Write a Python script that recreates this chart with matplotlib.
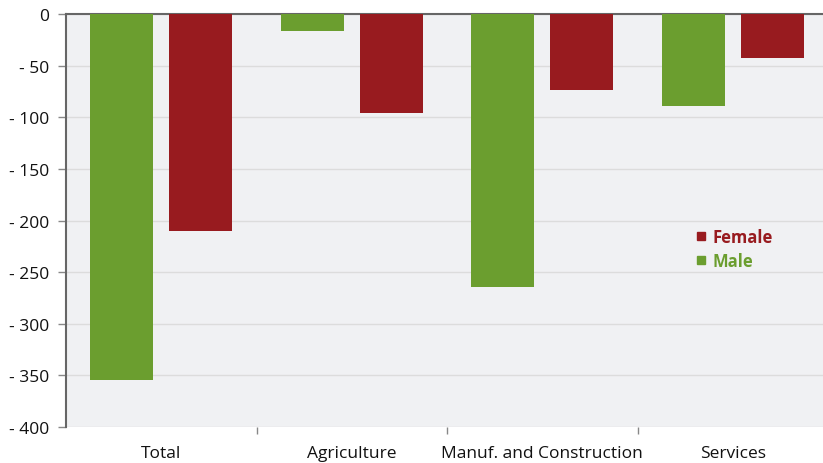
import matplotlib

matplotlib.use("Agg")
import matplotlib.pyplot as plt
import numpy as np
from matplotlib.lines import Line2D

categories = ["Total", "Agriculture", "Manuf. and Construction", "Services"]
male = [-354, -16, -264, -89]
female = [-210, -96, -74, -43]
yticks = [0, -50, -100, -150, -200, -250, -300, -350, -400]
ytick_labels = ["0"] + [f"- {abs(v)}" for v in yticks[1:]]

GREEN = "#6b9e2f"
RED = "#981b1f"
BG = "#f0f1f3"

plt.rcParams["font.family"] = ["Open Sans", "DejaVu Sans"]

fig = plt.figure(figsize=(8.23, 4.64), dpi=100)
ax = fig.add_axes([66 / 823, 1 - 428 / 464, 762 / 823, 413 / 464])
ax.set_facecolor(BG)

x = np.arange(len(categories))
w = 0.33
ax.bar(x - 0.207, male, width=w, color=GREEN, zorder=3)
ax.bar(x + 0.207, female, width=w, color=RED, zorder=3)

ax.set_xlim(-0.5, len(categories) - 0.5)
ax.set_ylim(-400, 0)
ax.set_yticks(yticks)
ax.set_yticklabels(ytick_labels, fontsize=12.5, color="#111111")
ax.yaxis.grid(True, color="#dcdcdc", lw=1, zorder=0)
ax.tick_params(axis="y", length=6, color="#888888", width=1, pad=6)

ax.set_xticks(x)
ax.set_xticklabels(categories, fontsize=12.5, color="#111111")
ax.tick_params(axis="x", length=0, pad=13)
ax.set_xticks(np.arange(len(categories) - 1) + 0.5, minor=True)
ax.tick_params(axis="x", which="minor", length=5, color="#888888", width=1)

for s in ["right", "bottom"]:
    ax.spines[s].set_visible(False)
ax.spines["left"].set_color("#666666")
ax.spines["left"].set_linewidth(1.5)
ax.spines["top"].set_color("#666666")
ax.spines["top"].set_linewidth(1.5)

handles = [
    Line2D([], [], marker="s", ls="", color=RED, markersize=6),
    Line2D([], [], marker="s", ls="", color=GREEN, markersize=6),
]
leg = ax.legend(
    handles, ["Female", "Male"],
    loc="center left", bbox_to_anchor=(681 / 823, 1 - 250 / 464),
    bbox_transform=fig.transFigure,
    frameon=False, handlelength=0.6, handletextpad=0.4, labelspacing=0.35,
    prop={"weight": "bold", "size": 12},
)
for t, c in zip(leg.get_texts(), [RED, GREEN]):
    t.set_color(c)

fig.savefig("out.png", dpi=100)
